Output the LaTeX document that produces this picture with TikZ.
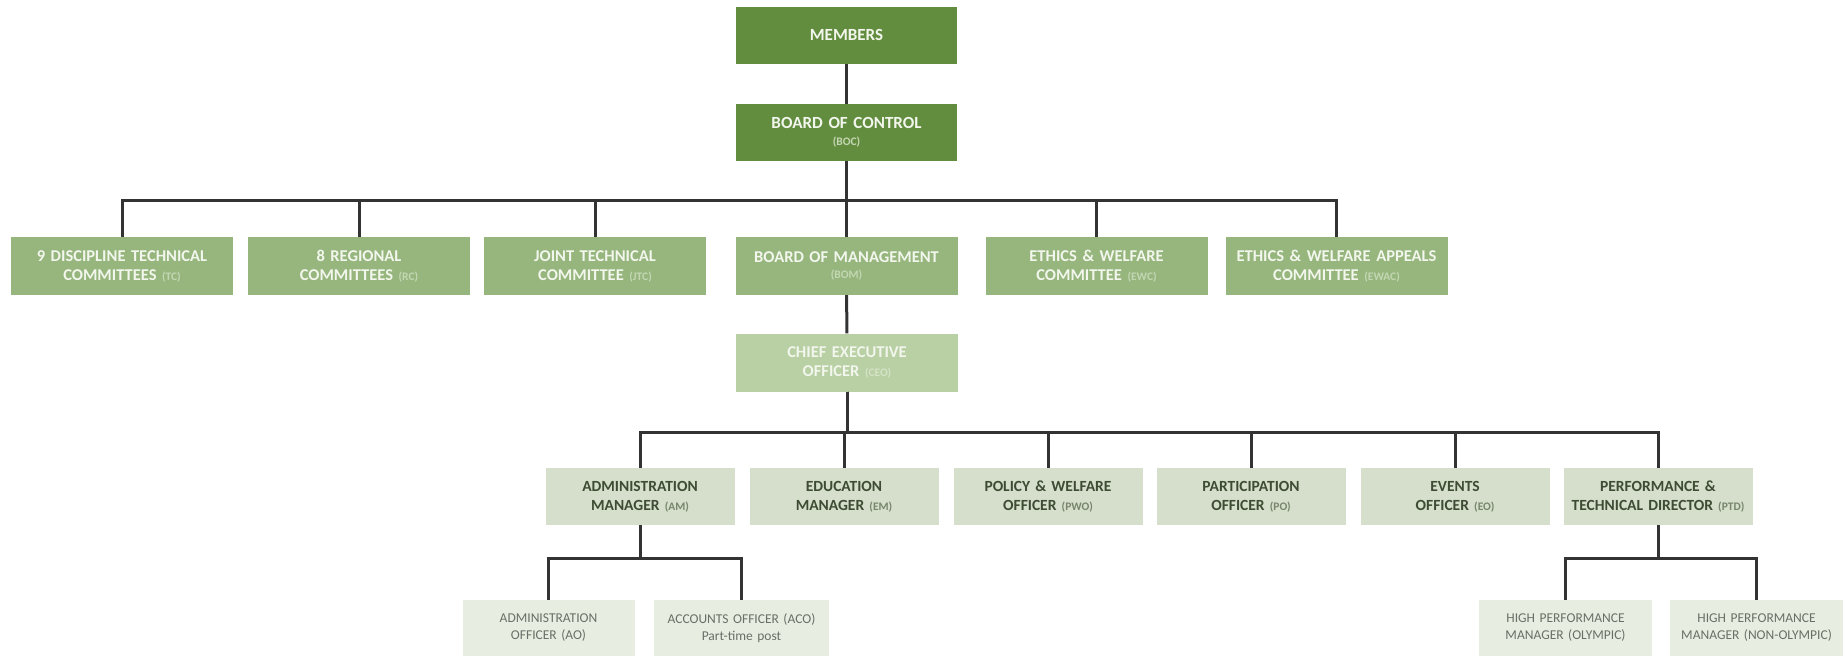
\documentclass[tikz,border=0pt]{standalone}
\usepackage{fontspec}
\setmainfont{Carlito}
\definecolor{topfill}{HTML}{628D3F}
\definecolor{midfill}{HTML}{96B67E}
\definecolor{ceofill}{HTML}{B8D0A4}
\definecolor{lowfill}{HTML}{D6DECC}
\definecolor{botfill}{HTML}{E8EDE2}
\definecolor{lightText}{HTML}{F2F6EC}
\definecolor{midAb}{HTML}{C4D7B3}
\definecolor{ceoAb}{HTML}{D4E3C6}
\definecolor{lowText}{HTML}{3E4C34}
\definecolor{lowAb}{HTML}{77866C}
\definecolor{botText}{HTML}{6A6E66}
\definecolor{wire}{HTML}{333333}
\newcommand\abr[1]{{\fontsize{11.5}{13}\selectfont\color{\abcol}#1}}
\begin{document}
\begin{tikzpicture}[x=1pt,y=-1pt,
  orgbox/.style={inner sep=0pt, align=center, text width=#1, minimum height=57pt},
  topbox/.style={orgbox=221pt, fill=topfill, text=lightText, font=\fontsize{17}{20}\selectfont\bfseries\def\abcol{midAb}},
  midbox/.style={orgbox=222pt, fill=midfill, text=lightText, minimum height=58pt, font=\fontsize{16.5}{19}\selectfont\bfseries\def\abcol{midAb}},
  ceobox/.style={orgbox=222pt, fill=ceofill, text=lightText, minimum height=58pt, font=\fontsize{16.5}{19}\selectfont\bfseries\def\abcol{ceoAb}},
  lowbox/.style={orgbox=189pt, fill=lowfill, text=lowText, font=\fontsize{15.5}{19}\selectfont\bfseries\def\abcol{lowAb}},
  botbox/.style={orgbox=#1, fill=botfill, text=botText, minimum height=56pt, font=\fontsize{13.5}{17}\selectfont\def\abcol{botText}},
  wirestyle/.style={draw=wire, line width=3pt}]
\useasboundingbox (0,0) rectangle (1847,656);
\fill[white] (0,0) rectangle (1847,656);

% top
\node[topbox] (mem) at (846.5,35) {MEMBERS};
\node[topbox] (boc) at (846.5,132.5) {BOARD OF CONTROL\\[-3pt]\abr{(BOC)}};

% row 2
\node[midbox] (tc) at (122,266) {9 DISCIPLINE TECHNICAL\\COMMITTEES \abr{(TC)}};
\node[midbox] (rc) at (359,266) {8 REGIONAL\\COMMITTEES \abr{(RC)}};
\node[midbox] (jtc) at (595,266) {JOINT TECHNICAL\\COMMITTEE \abr{(JTC)}};
\node[midbox] (bom) at (846.5,266) {BOARD OF MANAGEMENT\\[-3pt]\abr{(BOM)}};
\node[midbox] (ewc) at (1096.5,266) {ETHICS \& WELFARE\\COMMITTEE \abr{(EWC)}};
\node[midbox] (ewac) at (1336.5,266) {ETHICS \& WELFARE APPEALS\\COMMITTEE \abr{(EWAC)}};

% CEO
\node[ceobox] (ceo) at (847,362.5) {CHIEF EXECUTIVE\\OFFICER \abr{(CEO)}};

% row 3
\node[lowbox] (am) at (640,496.5) {ADMINISTRATION\\MANAGER \abr{(AM)}};
\node[lowbox] (em) at (844,496.5) {EDUCATION\\MANAGER \abr{(EM)}};
\node[lowbox] (pwo) at (1048,496.5) {POLICY \& WELFARE\\OFFICER \abr{(PWO)}};
\node[lowbox] (po) at (1251,496.5) {PARTICIPATION\\OFFICER \abr{(PO)}};
\node[lowbox] (eo) at (1455,496.5) {EVENTS\\OFFICER \abr{(EO)}};
\node[lowbox] (ptd) at (1658,496.5) {PERFORMANCE \&\\TECHNICAL DIRECTOR \abr{(PTD)}};

% row 4
\node[botbox=172pt] (ao) at (548.5,628) {ADMINISTRATION\\OFFICER (AO)};
\node[botbox=175pt] (aco) at (741.5,628) {ACCOUNTS OFFICER (ACO)\\Part-time post};
\node[botbox=173pt] (hpo) at (1565.5,628) {HIGH PERFORMANCE\\MANAGER (OLYMPIC)};
\node[botbox=173pt] (hpn) at (1756.5,628) {HIGH PERFORMANCE\\MANAGER (NON-OLYMPIC)};

% bus coordinates
\coordinate (busA) at (846.5,200);
\coordinate (busB) at (847,432);
\coordinate (busC) at (640,558);
\coordinate (busD) at (1658,558);

% connectors
\draw[wirestyle] (mem) -- (boc);
\foreach \n in {tc,rc,jtc,bom,ewc,ewac}
  \draw[wirestyle] (boc.south) -- (boc.south |- busA) -| (\n.north);
\draw[wirestyle] (bom) -- (ceo);
\foreach \n in {am,em,pwo,po,eo,ptd}
  \draw[wirestyle] (ceo.south) -- (ceo.south |- busB) -| (\n.north);
\foreach \n in {ao,aco}
  \draw[wirestyle] (am.south) -- (am.south |- busC) -| (\n.north);
\foreach \n in {hpo,hpn}
  \draw[wirestyle] (ptd.south) -- (ptd.south |- busD) -| (\n.north);
\end{tikzpicture}
\end{document}
